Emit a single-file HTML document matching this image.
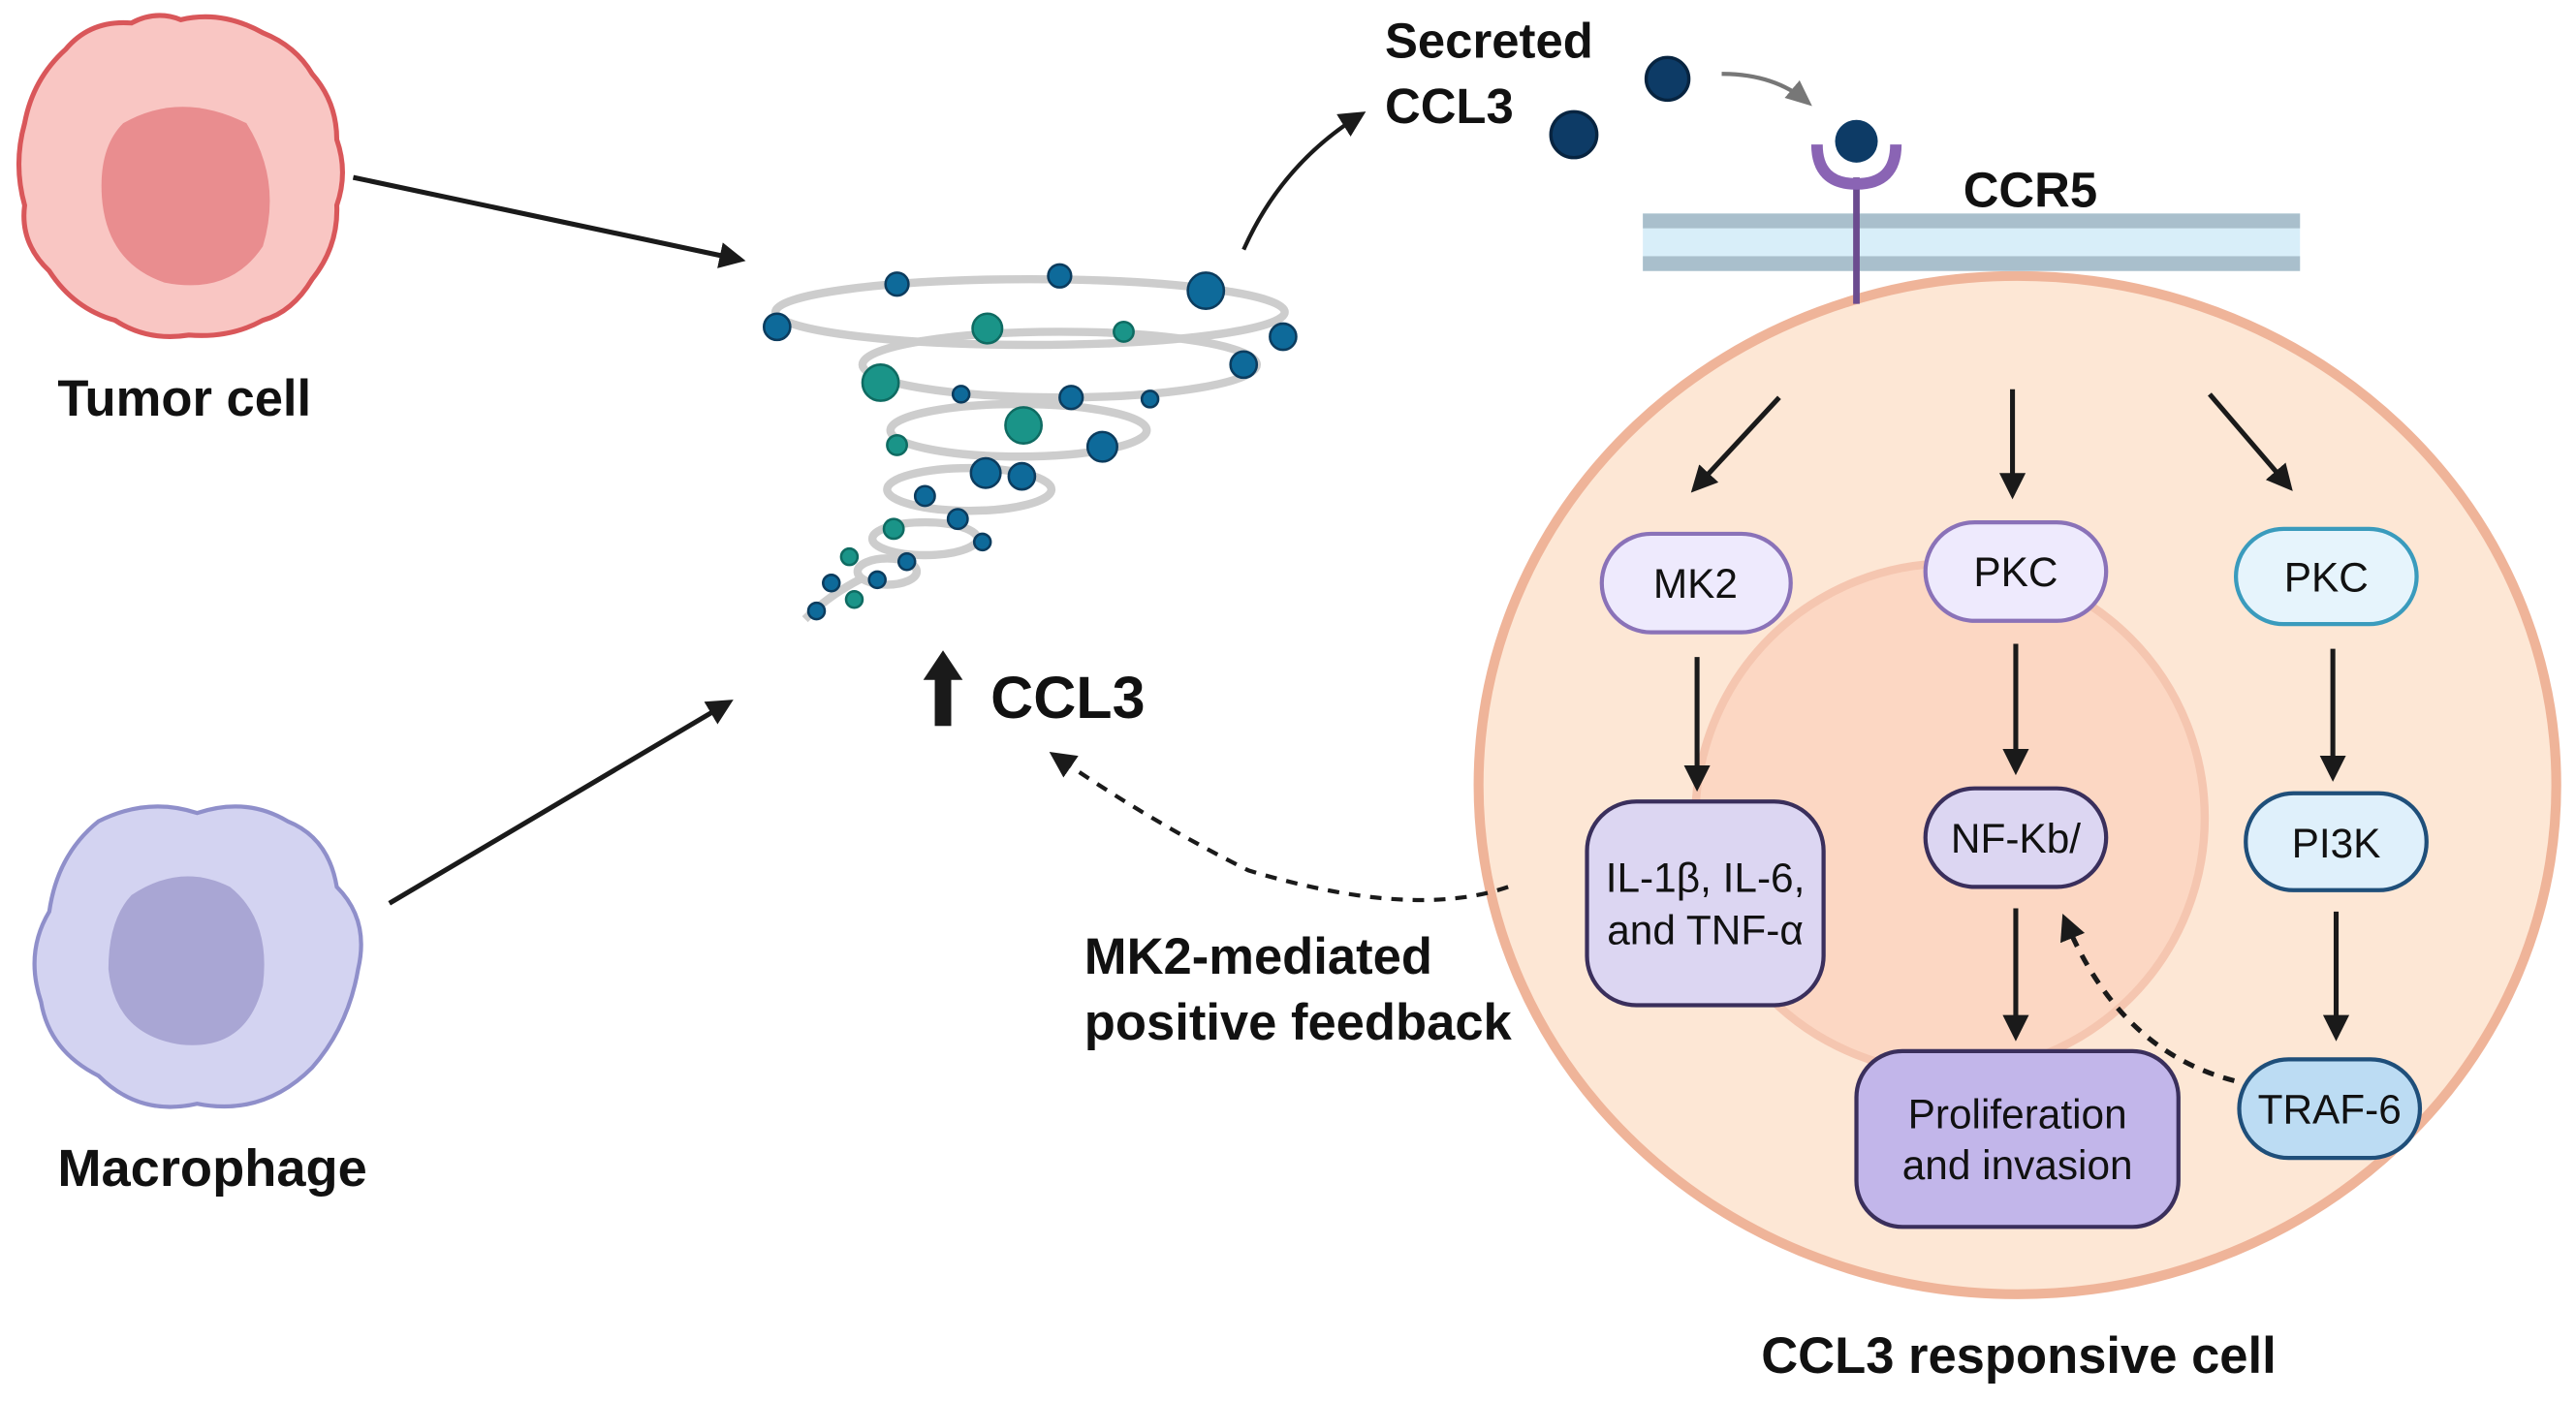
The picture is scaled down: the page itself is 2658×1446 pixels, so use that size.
<!DOCTYPE html>
<html><head><meta charset="utf-8"><style>
html,body{margin:0;padding:0;background:#fff}
svg{display:block}
text{font-family:"Liberation Sans",Arial,sans-serif}
</style></head><body>
<svg width="2658" height="1446" viewBox="0 0 1568 853" preserveAspectRatio="none" xmlns="http://www.w3.org/2000/svg">
<defs>
<marker id="ab" markerWidth="16" markerHeight="16" refX="12" refY="8" orient="auto" markerUnits="userSpaceOnUse" viewBox="0 0 16 16"><path d="M0,0 L16,8 L0,16 z" fill="#1a1a1a"/></marker>
<marker id="ag" markerWidth="16" markerHeight="16" refX="12" refY="8" orient="auto" markerUnits="userSpaceOnUse" viewBox="0 0 16 16"><path d="M0,1 L16,8 L0,15 z" fill="#777"/></marker>
</defs>
<rect width="1568" height="853" fill="#fff"/>

<!-- Tumor cell -->
<path d="M40,30 Q55,12 80,14 Q95,6 110,12 Q135,6 160,20 Q180,28 190,45 Q205,62 205,85 Q212,105 205,125 Q206,150 190,170 Q178,190 160,195 Q140,206 115,204 Q90,208 70,195 Q45,188 30,165 Q12,148 15,125 Q8,100 15,75 Q20,48 40,30 z" fill="#f9c6c3" stroke="#d9575a" stroke-width="3"/>
<path d="M75,75 Q110,55 150,75 Q172,110 160,150 Q140,180 100,172 Q65,160 62,120 Q60,90 75,75 z" fill="#e98d8f"/>
<text x="35" y="253" font-size="31" font-weight="bold" fill="#111">Tumor cell</text>

<!-- Macrophage -->
<path d="M60,500 Q90,485 120,495 Q150,485 175,500 Q200,510 205,540 Q225,560 218,590 Q212,625 190,650 Q160,680 120,672 Q85,680 60,655 Q30,640 25,610 Q15,580 30,555 Q35,520 60,500 z" fill="#d3d3f1" stroke="#8f8fca" stroke-width="2.5"/>
<path d="M80,545 Q110,525 140,540 Q165,560 160,600 Q150,640 110,636 Q70,630 66,590 Q66,560 80,545 z" fill="#a9a6d4"/>
<text x="35" y="722" font-size="32" font-weight="bold" fill="#111">Macrophage</text>

<!-- arrows from cells -->
<line x1="215" y1="108" x2="450" y2="158" stroke="#1a1a1a" stroke-width="3" marker-end="url(#ab)"/>
<line x1="237" y1="550" x2="443" y2="428" stroke="#1a1a1a" stroke-width="3" marker-end="url(#ab)"/>
<path d="M757,152 Q780,100 828,70" fill="none" stroke="#1a1a1a" stroke-width="2.5" marker-end="url(#ab)"/>

<!-- tornado -->
<g fill="none" stroke="#cdcdcd" stroke-width="5">
<ellipse cx="627" cy="190" rx="155" ry="20"/>
<ellipse cx="645" cy="222" rx="120" ry="20"/>
<ellipse cx="620" cy="262" rx="78" ry="16"/>
<ellipse cx="590" cy="298" rx="50" ry="13"/>
<ellipse cx="563" cy="328" rx="32" ry="10"/>
<ellipse cx="540" cy="348" rx="18" ry="8"/>
<path d="M525,352 Q505,362 490,377"/>
</g>
<g stroke="#0c3c5e" stroke-width="1.5" fill="#0e6a9a">
<circle cx="473" cy="199" r="8"/><circle cx="546" cy="173" r="7"/><circle cx="645" cy="168" r="7"/><circle cx="734" cy="177" r="11"/><circle cx="781" cy="205" r="8"/><circle cx="757" cy="222" r="8"/><circle cx="585" cy="240" r="5"/><circle cx="652" cy="242" r="7"/><circle cx="700" cy="243" r="5"/><circle cx="671" cy="272" r="9"/><circle cx="600" cy="288" r="9"/><circle cx="622" cy="290" r="8"/><circle cx="563" cy="302" r="6"/><circle cx="583" cy="316" r="6"/><circle cx="598" cy="330" r="5"/><circle cx="552" cy="342" r="5"/><circle cx="534" cy="353" r="5"/><circle cx="506" cy="355" r="5"/><circle cx="497" cy="372" r="5"/>
</g>
<g stroke="#0f6b62" stroke-width="1.5" fill="#1a9488">
<circle cx="601" cy="200" r="9"/><circle cx="684" cy="202" r="6"/><circle cx="536" cy="233" r="11"/><circle cx="623" cy="259" r="11"/><circle cx="546" cy="271" r="6"/><circle cx="544" cy="322" r="6"/><circle cx="517" cy="339" r="5"/><circle cx="520" cy="365" r="5"/>
</g>

<!-- up CCL3 -->
<rect x="569" y="412" width="10" height="30" fill="#1a1a1a"/>
<path d="M562,414 L574,396 L586,414 z" fill="#1a1a1a"/>
<text x="603" y="437" font-size="36" font-weight="bold" fill="#111">CCL3</text>

<!-- secreted -->
<text x="843" y="35" font-size="30" font-weight="bold" fill="#111">Secreted</text>
<text x="843" y="75" font-size="30" font-weight="bold" fill="#111">CCL3</text>
<circle cx="958" cy="82" r="14" fill="#0d3b66" stroke="#072440" stroke-width="2"/>
<circle cx="1015" cy="48" r="13" fill="#0d3b66" stroke="#072440" stroke-width="2"/>
<path d="M1048,45 Q1080,45 1100,62" fill="none" stroke="#777" stroke-width="2.5" marker-end="url(#ag)"/>

<!-- cell -->
<ellipse cx="1228" cy="478" rx="328" ry="310" fill="#fde7d5" stroke="#efb499" stroke-width="6"/>
<circle cx="1187" cy="498" r="155" fill="#fcd7c3" stroke="#f5c6b0" stroke-width="5"/>
<rect x="1000" y="130" width="400" height="35" fill="#d8eef9"/>
<rect x="1000" y="130" width="400" height="9" fill="#a9bfcc"/>
<rect x="1000" y="156" width="400" height="9" fill="#a9bfcc"/>
<text x="1195" y="126" font-size="30" font-weight="bold" fill="#111">CCR5</text>
<line x1="1130" y1="108" x2="1130" y2="185" stroke="#6b4b8f" stroke-width="4"/>
<path d="M1106,88 Q1106,112 1130,112 Q1154,112 1154,88" fill="none" stroke="#8a64b4" stroke-width="7"/>
<circle cx="1130" cy="86" r="13" fill="#0d3b66"/>

<!-- arrows in cell -->
<g stroke="#1a1a1a" stroke-width="3">
<line x1="1083" y1="242" x2="1032" y2="297" marker-end="url(#ab)"/>
<line x1="1225" y1="237" x2="1225" y2="300" marker-end="url(#ab)"/>
<line x1="1345" y1="240" x2="1393" y2="296" marker-end="url(#ab)"/>
<line x1="1033" y1="400" x2="1033" y2="478" marker-end="url(#ab)"/>
<line x1="1227" y1="392" x2="1227" y2="468" marker-end="url(#ab)"/>
<line x1="1420" y1="395" x2="1420" y2="472" marker-end="url(#ab)"/>
<line x1="1227" y1="553" x2="1227" y2="630" marker-end="url(#ab)"/>
<line x1="1422" y1="555" x2="1422" y2="630" marker-end="url(#ab)"/>
</g>
<path d="M1360,658 Q1290,640 1257,560" fill="none" stroke="#1a1a1a" stroke-width="3" stroke-dasharray="7,6" marker-end="url(#ab)"/>
<path d="M918,540 Q860,560 760,530 Q700,500 642,460" fill="none" stroke="#1a1a1a" stroke-width="2.5" stroke-dasharray="7,6" marker-end="url(#ab)"/>

<!-- nodes -->
<g font-size="25" text-anchor="middle" fill="#111">
<rect x="975" y="325" width="115" height="60" rx="30" fill="#eeeafd" stroke="#8a72b8" stroke-width="2.5"/>
<text x="1032" y="364">MK2</text>
<rect x="1172" y="318" width="110" height="60" rx="30" fill="#eeeafd" stroke="#8a72b8" stroke-width="2.5"/>
<text x="1227" y="357">PKC</text>
<rect x="1361" y="322" width="110" height="58" rx="29" fill="#e6f4fc" stroke="#3a9bbd" stroke-width="2.5"/>
<text x="1416" y="360">PKC</text>
<rect x="966" y="488" width="144" height="124" rx="30" fill="#dcd6f2" stroke="#3a2f5c" stroke-width="2.5"/>
<text x="1038" y="543">IL-1β, IL-6,</text>
<text x="1038" y="575">and TNF-α</text>
<rect x="1172" y="480" width="110" height="60" rx="30" fill="#dcd6f2" stroke="#3a2f5c" stroke-width="2.5"/>
<text x="1227" y="519">NF-Kb/</text>
<rect x="1367" y="483" width="110" height="59" rx="29" fill="#dff0fb" stroke="#1f4f7a" stroke-width="2.5"/>
<text x="1422" y="522">PI3K</text>
<rect x="1363" y="645" width="110" height="60" rx="30" fill="#bcdcf3" stroke="#1f4f7a" stroke-width="2.5"/>
<text x="1418" y="684">TRAF-6</text>
<rect x="1130" y="640" width="196" height="107" rx="28" fill="#c2b6ea" stroke="#3a2f5c" stroke-width="2.5"/>
<text x="1228" y="687">Proliferation</text>
<text x="1228" y="718">and invasion</text>
</g>

<text x="660" y="593" font-size="31" font-weight="bold" fill="#111">MK2-mediated</text>
<text x="660" y="633" font-size="31" font-weight="bold" fill="#111">positive feedback</text>
<text x="1072" y="836" font-size="31" font-weight="bold" fill="#111">CCL3 responsive cell</text>
</svg>
</body></html>
